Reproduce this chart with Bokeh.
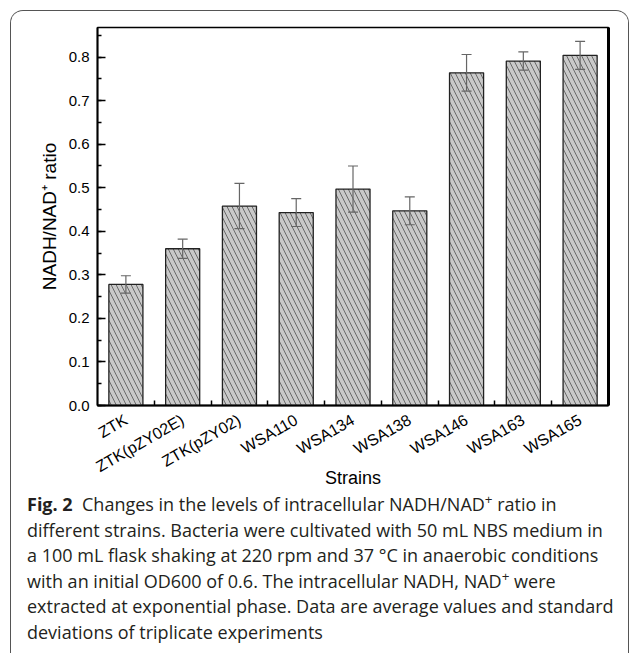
import math
from bokeh.plotting import figure
from bokeh.layouts import column, row
from bokeh.models import (ColumnDataSource, Range1d, FixedTicker, SingleIntervalTicker,
                          NumeralTickFormatter, Whisker, TeeHead, LinearAxis, Div, Spacer)
from bokeh.embed import file_html
from bokeh.resources import INLINE

# ---------------- data ----------------
categories = ["ZTK", "ZTK(pZY02E)", "ZTK(pZY02)", "WSA110", "WSA134",
              "WSA138", "WSA146", "WSA163", "WSA165"]
ratios = [0.278, 0.360, 0.458, 0.443, 0.497, 0.447, 0.764, 0.791, 0.804]
std_devs = [0.020, 0.022, 0.052, 0.032, 0.053, 0.032, 0.042, 0.021, 0.032]
y_ticks_interval = 0.1

x_title = "Strains"
y_title = "NADH/NAD\u207a ratio"
caption_bold = "Fig. 2"
caption_lines = [
    "Changes in the levels of intracellular NADH/NAD<sup>+</sup> ratio in",
    "different strains. Bacteria were cultivated with 50 mL NBS medium in",
    "a 100 mL flask shaking at 220 rpm and 37 \u00b0C in anaerobic conditions",
    "with an initial OD600 of 0.6. The intracellular NADH, NAD<sup>+</sup> were",
    "extracted at exponential phase. Data are average values and standard",
    "deviations of triplicate experiments",
]

# ---------------- derived ----------------
xpos = list(range(1, len(categories) + 1))
bounds = [i + 0.5 for i in xpos[:-1]]
src = ColumnDataSource(dict(
    x=xpos, top=ratios,
    upper=[r + e for r, e in zip(ratios, std_devs)],
    lower=[r - e for r, e in zip(ratios, std_devs)],
))

FONT = "Liberation Sans"

p = figure(width=617, height=481, output_backend="svg", toolbar_location=None,
           x_range=Range1d(0.5, len(categories) + 0.5), y_range=Range1d(0, 0.868),
           min_border_left=86, min_border_right=20, min_border_top=16,
           min_border_bottom=87)
p.xgrid.visible = False
p.ygrid.visible = False
p.outline_line_color = "black"
p.outline_line_width = 1.3
p.background_fill_color = "white"
p.border_fill_color = "white"

# bars
p.vbar(x="x", top="top", width=0.6, source=src, fill_color="#c9c9c9",
       line_color="#222222", line_width=1.3,
       hatch_pattern="\\", hatch_color="#505050", hatch_weight=0.8, hatch_scale=10)

# error bars
w = Whisker(base="x", upper="upper", lower="lower", source=src, level="annotation",
            line_color="#666666", line_width=1.2,
            upper_head=TeeHead(size=10, line_color="#666666", line_width=1.2),
            lower_head=TeeHead(size=10, line_color="#666666", line_width=1.2))
p.add_layout(w)

# x axis
xa = p.xaxis[0]
xa.ticker = FixedTicker(ticks=xpos, minor_ticks=bounds)
xa.major_label_overrides = {x: c for x, c in zip(xpos, categories)}
xa.major_label_orientation = math.pi / 6
xa.major_label_text_font = FONT
xa.major_label_text_font_size = "16px"
xa.major_label_text_color = "black"
xa.major_label_standoff = 13
xa.major_tick_in = 0
xa.major_tick_out = 0
xa.minor_tick_in = 5
xa.minor_tick_out = 0
xa.minor_tick_line_color = "black"
xa.minor_tick_line_width = 1.5
xa.axis_line_width = 2
xa.axis_line_color = "black"
xa.axis_label = x_title
xa.axis_label_text_font = FONT
xa.axis_label_text_font_size = "18px"
xa.axis_label_text_font_style = "normal"
xa.axis_label_text_color = "black"
xa.axis_label_standoff = -18

# y axis
ya = p.yaxis[0]
ya.ticker = SingleIntervalTicker(interval=y_ticks_interval, num_minor_ticks=2)
ya.formatter = NumeralTickFormatter(format="0.0")
ya.major_label_text_font = FONT
ya.major_label_text_font_size = "15px"
ya.major_label_text_color = "black"
ya.major_label_standoff = 8
ya.major_tick_in = 8
ya.major_tick_out = 0
ya.minor_tick_in = 4
ya.minor_tick_out = 0
ya.major_tick_line_width = 1.5
ya.minor_tick_line_width = 1.5
ya.major_tick_line_color = "black"
ya.minor_tick_line_color = "black"
ya.axis_line_width = 2
ya.axis_line_color = "black"
ya.axis_label = y_title
ya.axis_label_text_font = FONT
ya.axis_label_text_font_size = "19px"
ya.axis_label_text_font_style = "normal"
ya.axis_label_text_color = "black"
ya.axis_label_standoff = 6

# thick right frame edge
ra = LinearAxis(ticker=FixedTicker(ticks=[]), major_label_text_font_size="0px",
                axis_line_width=3, axis_line_color="black",
                major_tick_in=0, major_tick_out=0, minor_tick_in=0, minor_tick_out=0)
p.add_layout(ra, "right")

# caption
cap_html = ("<div style=\"font-family:'Open Sans',sans-serif;font-size:18px;"
            "line-height:25.6px;color:#231f20;padding-left:16px;white-space:nowrap;\">"
            f"<b>{caption_bold}</b>&nbsp;&nbsp;" + "<br>".join(caption_lines) + "</div>")
cap_html = cap_html.replace("<sup>", "<sup style=\"font-size:75%;line-height:0;\">")
cap = Div(text=cap_html, width=617, height=161, margin=0)

inner = column(p, cap, spacing=0,
               styles={"border": "1px solid #555555", "border-bottom": "none",
                       "border-radius": "13px 13px 0 0", "overflow": "hidden",
                       "background": "white"})
root = column(Spacer(height=10), row(Spacer(width=10), inner, spacing=0), spacing=0)

open("out.html", "w").write(file_html(root, INLINE))
